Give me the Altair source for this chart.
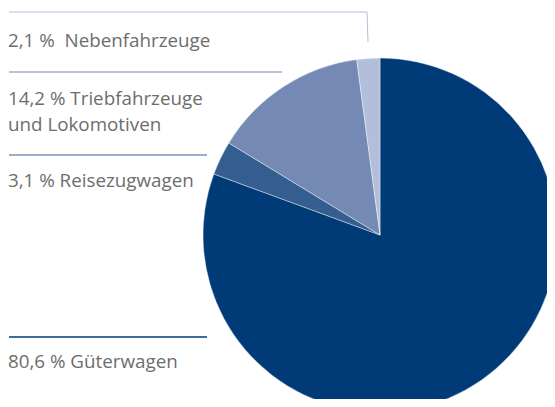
import altair as alt
import pandas as pd

categories = ["Güterwagen", "Reisezugwagen", "Triebfahrzeuge und Lokomotiven", "Nebenfahrzeuge"]
shares = [80.6, 3.1, 14.2, 2.1]
colors = ["#003b77", "#345e90", "#7489b3", "#b3bfda"]
label_lines = [
    ["80,6 % Güterwagen"],
    ["3,1 % Reisezugwagen"],
    ["14,2 % Triebfahrzeuge", "und Lokomotiven"],
    ["2,1 %\u00a0 Nebenfahrzeuge"],
]

df = pd.DataFrame({"cat": categories, "share": shares, "order": list(range(len(categories)))})

W, H = 539, 391
CX, CY, R = 372, 227, 177

pie = alt.Chart(df).mark_arc(outerRadius=R, stroke="#ffffff", strokeWidth=0.4).encode(
    theta=alt.Theta("share:Q", stack=True),
    order=alt.Order("order:Q"),
    color=alt.Color("cat:N", scale=alt.Scale(domain=categories, range=colors), legend=None),
    x=alt.value(CX),
    y=alt.value(CY),
)

# leader layout (pixel positions of the annotation rules and texts)
rule_y = [329, 147, 64, 4]
rule_x2 = [199, 199, 274, 359]
rule_w = [1.6, 1.2, 1.2, 1.0]
text_y = [360, 179, 97, 39]

base = alt.Chart(pd.DataFrame({"d": [0]}))
layers = [pie]
for i in range(4):
    layers.append(
        base.mark_rule(color=colors[i], strokeWidth=rule_w[i]).encode(
            x=alt.value(1), x2=alt.value(rule_x2[i]), y=alt.value(rule_y[i])
        )
    )
    for j, line in enumerate(label_lines[i]):
        layers.append(
            base.mark_text(
                text=line, align="left", baseline="alphabetic",
                font="Open Sans", fontSize=18.8, color="#6d6d6d",
            ).encode(x=alt.value(0), y=alt.value(text_y[i] + 26 * j))
        )
layers.append(
    base.mark_rule(color=colors[3], strokeWidth=1.0).encode(
        x=alt.value(359), x2=alt.value(360), y=alt.value(4), y2=alt.value(34)
    )
)

chart = alt.layer(*layers).properties(
    width=W, height=H, autosize=alt.AutoSizeParams(type="none"), padding=0
).configure_view(stroke=None)

chart.save("out.html", embed_options={"renderer": "svg", "actions": False})
